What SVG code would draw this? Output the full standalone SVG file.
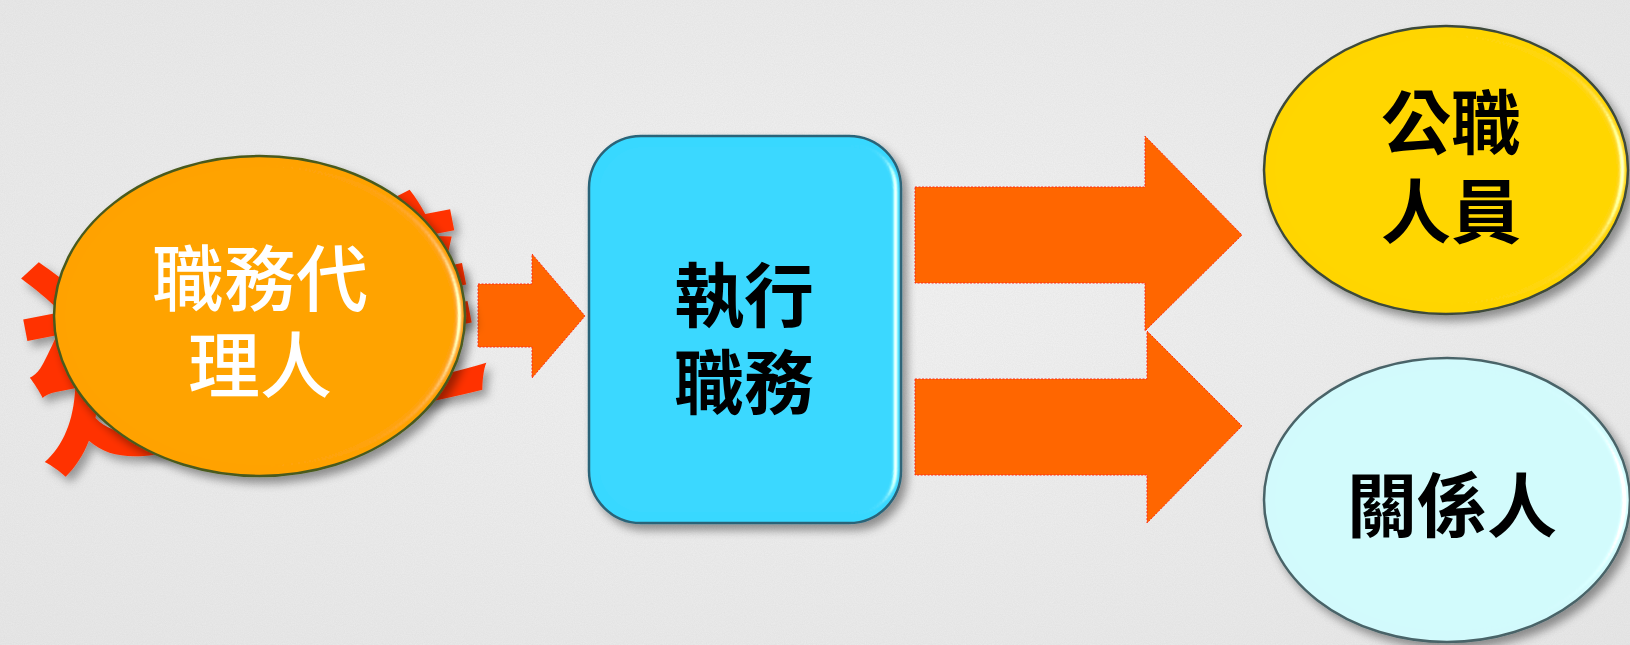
<svg xmlns="http://www.w3.org/2000/svg" width="1630" height="645" viewBox="0 0 1630 645">
  <style>
    .cjk { font-family: "Noto Sans CJK TC", "Noto Sans CJK SC", sans-serif; text-anchor: middle; dominant-baseline: central; }
    .lbl { font-size: 70px; font-weight: bold; fill: #000000; }
    .wlbl { font-size: 72px; font-weight: 500; fill: #FFFFFF; }
    .arrow { fill: #FF6600; stroke: #FF2A1A; stroke-width: 1; stroke-dasharray: 2 1.5; }
  </style>
  <defs>
    <filter id="paper" x="0" y="0" width="100%" height="100%">
      <feTurbulence type="fractalNoise" baseFrequency="0.9" numOctaves="2" seed="3" result="n"/>
      <feColorMatrix in="n" type="matrix" values="0 0 0 0 0.55  0 0 0 0 0.55  0 0 0 0 0.55  0 0 0 0.25 0"/>
    </filter>
    <radialGradient id="bgGrad" cx="50%" cy="45%" r="75%">
      <stop offset="0" stop-color="#F4F4F4"/>
      <stop offset="1" stop-color="#E8E8E8"/>
    </radialGradient>
    <filter id="bev" x="-10%" y="-10%" width="125%" height="130%">
      <feGaussianBlur in="SourceAlpha" stdDeviation="5" result="b"/>
      <feSpecularLighting in="b" surfaceScale="8" specularConstant="0.8" specularExponent="50" lighting-color="#FFFFDD" result="s">
        <feDistantLight azimuth="0" elevation="35"/>
      </feSpecularLighting>
      <feComposite in="s" in2="SourceAlpha" operator="in" result="si"/>
      <feComposite in="SourceGraphic" in2="si" operator="arithmetic" k2="1" k3="1" result="lit"/>
      <feGaussianBlur in="SourceAlpha" stdDeviation="5" result="sb"/>
      <feOffset in="sb" dx="5" dy="6" result="so"/>
      <feComponentTransfer in="so" result="sh"><feFuncA type="linear" slope="0.4"/></feComponentTransfer>
      <feMerge><feMergeNode in="sh"/><feMergeNode in="lit"/></feMerge>
    </filter>
    <filter id="shadow" x="-10%" y="-10%" width="125%" height="130%">
      <feDropShadow dx="5" dy="6" stdDeviation="5" flood-color="#000" flood-opacity="0.35"/>
    </filter>
  </defs>

  <rect width="1630" height="645" fill="url(#bgGrad)"/>
  <rect width="1630" height="645" filter="url(#paper)"/>

  <g id="connectors">
    <polygon class="arrow" points="478,284 532,284 532,254 585,316 532,378 532,347 478,347"/>
    <polygon class="arrow" points="915,187 1145,187 1145,136 1242,235 1145,331 1145,283 915,283"/>
    <polygon class="arrow" points="915,379 1147,379 1147,331 1242,426 1147,523 1147,475 915,475"/>
  </g>

  <!-- red stamp text behind the agent ellipse -->
  <g id="stamp" filter="url(#shadow)">
    <text class="cjk" x="247" y="318" font-size="230" font-weight="bold" fill="#FF3300" transform="rotate(-11 247 318)">迴避</text>
  </g>

  <g id="agent">
    <ellipse cx="259.5" cy="316" rx="205.5" ry="160" fill="#FFA200" stroke="#4A5A1E" stroke-width="2.5" filter="url(#bev)"/>
    <text class="cjk wlbl" x="260" y="273">職務代</text>
    <text class="cjk wlbl" x="260" y="360">理人</text>
  </g>

  <g id="execute">
    <rect x="589" y="136" width="312" height="387" rx="52" ry="52" fill="#38D8FF" stroke="#2A6478" stroke-width="2.5" filter="url(#bev)"/>
    <text class="cjk lbl" x="744" y="291">執行</text>
    <text class="cjk lbl" x="744" y="378">職務</text>
  </g>

  <g id="official">
    <ellipse cx="1446" cy="170" rx="182" ry="144" fill="#FFD500" stroke="#3E4A3A" stroke-width="2.5" filter="url(#bev)"/>
    <text class="cjk lbl" x="1451" y="118">公職</text>
    <text class="cjk lbl" x="1451" y="207">人員</text>
  </g>

  <g id="related">
    <ellipse cx="1447" cy="500" rx="183" ry="142" fill="#D2FAFC" stroke="#4A6468" stroke-width="2.5" filter="url(#bev)"/>
    <text class="cjk lbl" x="1452" y="501" font-size="74">關係人</text>
  </g>
</svg>
